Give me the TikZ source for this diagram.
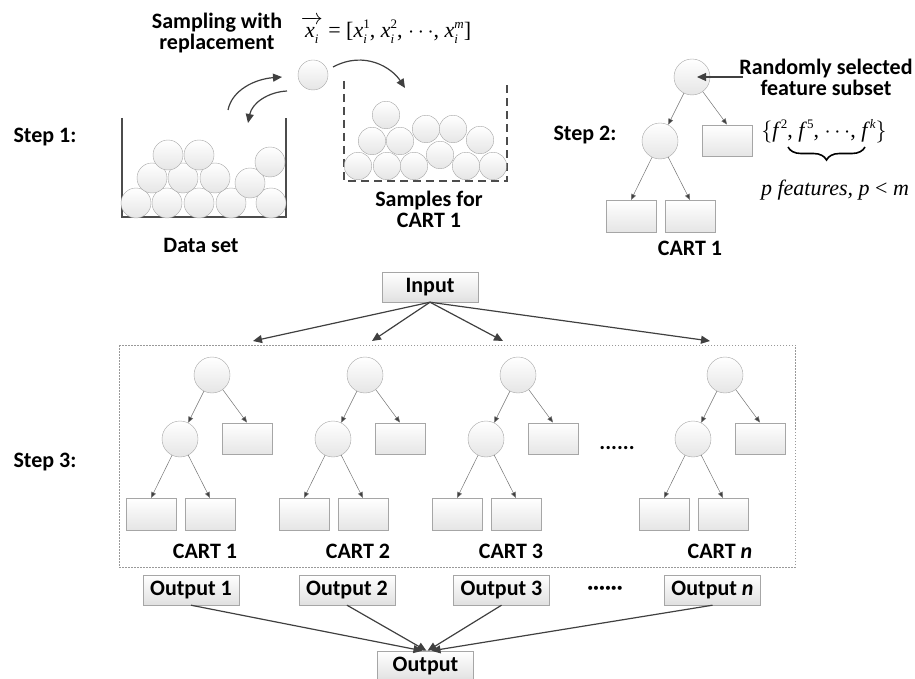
\documentclass[tikz,border=0pt]{standalone}
\usepackage{fix-cm}
\usepackage[no-math]{fontspec}
\setmainfont{Carlito}
\newfontfamily\tmfont{Liberation Serif}
\usetikzlibrary{arrows.meta,decorations.pathreplacing}
\newsavebox\Tbsup
\newsavebox\Tbsub
\newcommand\Tsz{\fontsize{13}{13}\selectfont}
% base, superscript, subscript (text mode)
\newcommand\Tss[3]{{\itshape #1\/}\sbox\Tbsup{\Tsz #2}\sbox\Tbsub{\Tsz\itshape #3}%
 \rlap{\raisebox{9.5pt}{\usebox\Tbsup}}\raisebox{-5.5pt}{\usebox\Tbsub}%
 \ifdim\wd\Tbsup>\wd\Tbsub\kern\dimexpr\wd\Tbsup-\wd\Tbsub\relax\fi}
\newcommand\Tsp[2]{{\itshape #1\/}\raisebox{9.5pt}{\Tsz #2}}
\tikzset{
 lbl/.style={font=\bfseries\fontsize{22}{21}\selectfont, inner sep=0, align=center},
 mth/.style={font=\tmfont\fontsize{22}{26}\selectfont, inner sep=0},
 ball/.style={circle, draw=black!35, top color=white, bottom color=black!10, minimum size=30, inner sep=0},
 sball/.style={ball, minimum size=27.5},
 tnode/.style={circle, draw=black!35, top color=white, bottom color=black!10, minimum size=36, inner sep=0},
 leaf/.style={rectangle, draw=black!35, top color=white, bottom color=black!10, minimum width=50, minimum height=31.5, inner sep=0},
 iobox/.style={rectangle, draw=black!35, top color=white, bottom color=black!12, minimum width=96, minimum height=30, inner sep=0, font=\bfseries\fontsize{22}{25}\selectfont},
 tedge/.style={draw=black!55, line width=0.5, -{Triangle[length=6,width=5,fill=black!75]}},
 bigarrow/.style={draw=black!75, line width=1.2, -{Triangle[length=9,width=8]}},
 bucket/.style={draw=black!70, line width=1.2},
}
\newcommand\carttree[3]{%
 \begin{scope}[shift={(#2,#3)}]
  \node[tnode] (#1r) at (0,0) {};
  \node[tnode] (#1c) at (-32,64) {};
  \node[leaf] (#1rr) at (35,63.5) {};
  \node[leaf] (#1la) at (-61,139) {};
  \node[leaf] (#1lb) at (-2,139) {};
  \draw[tedge] (#1r) -- (#1c);
  \draw[tedge] (#1r) -- (#1rr.north);
  \draw[tedge] (#1c) -- (#1la.north);
  \draw[tedge] (#1c) -- (#1lb.north);
 \end{scope}}
\begin{document}
\begin{tikzpicture}[x=1pt,y=-1pt]
\useasboundingbox (0,0) rectangle (915,679);
% ---------- Step 1 ----------
\node[lbl] (step1) at (45,137) {Step 1:};
\node[lbl] (swr) at (217,33) {Sampling with\\replacement};
\node[mth] (eq) at (386,30) {$\overrightarrow{\hbox{\tmfont\fontsize{22}{26}\selectfont\rule{0pt}{14pt}\itshape x\/\raisebox{-5.5pt}{\Tsz i}}}$ = [\Tss{x}{1}{i}, \Tss{x}{2}{i}, $\cdots$, \Tss{x}{\itshape m}{i}]};
% data set bucket
\draw[bucket] (122,118) -- (122,217) -- (286,217) -- (286,118);
\foreach \x/\y [count=\i] in {136/203,167/203,199/203,231/203,271/203,152/178,183/178,215/178,250/183,168/155,199/155,270/162}
  \node[ball] (d\i) at (\x,\y) {};
\node[lbl] (dset) at (201,245) {Data set};
% single ball and arrows
\node[ball] (one) at (313,75) {};
\coordinate (c1s) at (228,110);
\coordinate (c1e) at (282,77);
\coordinate (c2s) at (287,91);
\coordinate (c2e) at (248,123);
\coordinate (c3s) at (333,67);
\coordinate (c3e) at (405,88);
\draw[bigarrow] (c1s) .. controls (232,90) and (255,79) .. (c1e);
\draw[bigarrow] (c2s) .. controls (268,92) and (252,103) .. (c2e);
\draw[bigarrow] (c3s) .. controls (365,50) and (392,68) .. (c3e);
% samples bucket
\draw[bucket, dash pattern=on 8pt off 5pt] (344,81) -- (344,181) -- (507,181) -- (507,81);
\foreach \x/\y [count=\i] in {358/166,387/166,414/166,466/166,493/166,440/155,372/141,400/141,480/140,426/129,453/129,386/115}
  \node[sball] (s\i) at (\x,\y) {};
\node[lbl] (samp) at (429,209) {Samples for\\CART 1};
% ---------- Step 2 ----------
\node[lbl] (step2) at (585,135) {Step 2:};
\carttree{t0}{692}{77}
\node[lbl] (cart0) at (690,248) {CART 1};
\node[lbl] (rsf) at (826,77) {Randomly selected\\feature subset};
\coordinate (fs) at (743,77);
\draw[draw=black!75, line width=1.1, -{Triangle[length=9,width=8]}, shorten >=5pt] (fs) -- (t0r.center);
\node[mth] (fset) at (824,131) {$\Big\{$\Tsp{f}{2}, \Tsp{f}{5}, $\cdots$, \Tsp{f}{\itshape k}$\Big\}$};
\coordinate (bra) at (788,147);
\coordinate (brb) at (865,147);
\draw[decorate, decoration={brace, mirror, amplitude=13}, line width=1.6] (bra) -- (brb);
\node[mth] (pf) at (835,190) {\itshape p features, p \upshape{<} \itshape m};
% ---------- Step 3 ----------
\node[lbl] (step3) at (45,462) {Step 3:};
\node[iobox] (in) at (430,287) {Input};
\draw[black!40, dash pattern=on 1.5pt off 1.5pt, line width=0.5] (119,345) rectangle (795,567);
\carttree{ta}{212}{375}
\carttree{tb}{365}{375}
\carttree{tc}{518}{375}
\carttree{tn}{725}{375}
\node[lbl] (carta) at (205,551) {CART 1};
\node[lbl] (cartb) at (358,551) {CART 2};
\node[lbl] (cartc) at (511,551) {CART 3};
\node[lbl] (cartn) at (720,551) {CART \textit{n}};
\node[lbl, anchor=base] (dots1) at (617,449) {......};
\coordinate (ia) at (253,341);
\coordinate (ib) at (372,341);
\coordinate (ic) at (503,341);
\coordinate (in4) at (710,341);
\foreach \t in {ia,ib,ic,in4} \draw[bigarrow] (in.south) -- (\t);
\node[iobox] (oa) at (191,590) {Output 1};
\node[iobox] (ob) at (347,590) {Output 2};
\node[iobox] (oc) at (501.5,590) {Output 3};
\node[iobox] (on) at (712.5,590) {Output \textit{n}};
\node[lbl] (dots2) at (605,590) {······};
\node[iobox] (out) at (425.5,666) {Output};
\draw[bigarrow] (oa.south) -- ([xshift=-3]out.north);
\draw[bigarrow] (ob.south) -- ([xshift=1]out.north);
\draw[bigarrow] (oc.south) -- ([xshift=2]out.north);
\draw[bigarrow] (on.south) -- ([xshift=6]out.north);
\end{tikzpicture}
\end{document}
